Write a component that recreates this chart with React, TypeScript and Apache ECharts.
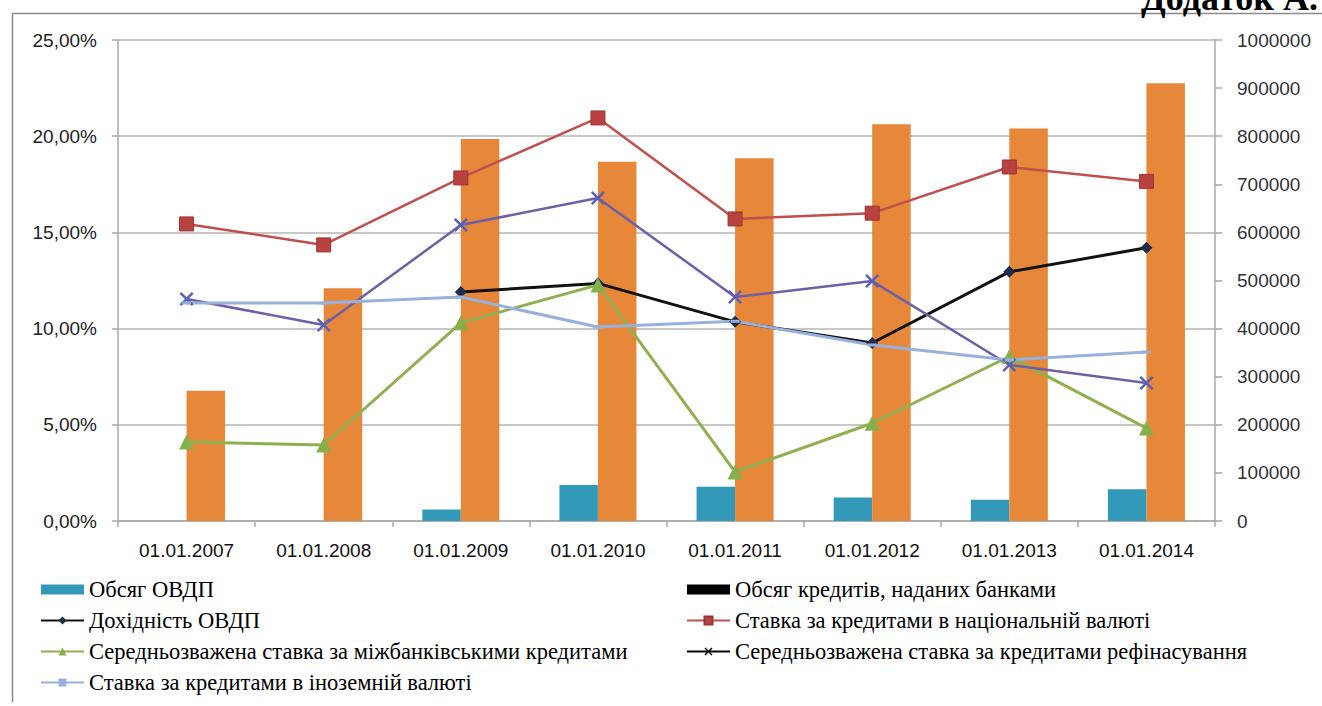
import React, { useEffect, useRef } from "react";
import * as echarts from "echarts";

const categories = ["01.01.2007", "01.01.2008", "01.01.2009", "01.01.2010", "01.01.2011", "01.01.2012", "01.01.2013", "01.01.2014"];
const ovdpVolume = [null, null, 24000, 75000, 71000, 49000, 44000, 66000];
const loansVolume = [271000, 484000, 794000, 747000, 754000, 825000, 816000, 910000];
const ovdpYield = [null, null, 11.9, 12.35, 10.35, 9.25, 12.95, 14.2];
const nationalRate = [15.44, 14.35, 17.83, 20.95, 15.7, 16.0, 18.4, 17.65];
const interbankRate = [4.1, 3.95, 10.3, 12.27, 2.55, 5.08, 8.55, 4.83];
const refinancingRate = [11.54, 10.19, 15.38, 16.79, 11.64, 12.47, 8.11, 7.17];
const foreignRate = [11.33, 11.33, 11.64, 10.08, 10.38, 9.15, 8.37, 8.78];

const leftAxis = { min: 0, max: 25, interval: 5 };
const rightAxis = { min: 0, max: 1000000, interval: 100000 };

const names = {
  ovdpVol: "Обсяг ОВДП",
  loansVol: "Обсяг кредитів, наданих банками",
  ovdpYield: "Дохідність ОВДП",
  national: "Ставка за кредитами в національній валюті",
  interbank: "Середньозважена ставка за міжбанківськими кредитами",
  refin: "Середньозважена ставка за кредитами рефінасування",
  foreign: "Ставка за кредитами в іноземній валюті",
};

const xSymbol = "path://M0,1.5L1.5,0L6,4.5L10.5,0L12,1.5L7.5,6L12,10.5L10.5,12L6,7.5L1.5,12L0,10.5L4.5,6Z";

const SERIF = "Liberation Serif";

export default function App() {
  const ref = useRef<HTMLDivElement>(null);
  useEffect(() => {
    if (!ref.current) return;
    const chart = echarts.init(ref.current, null, { renderer: "svg" });
    const legendText = {
      fontFamily: SERIF,
      fontSize: 22.5,
      color: "#000",
      lineHeight: 20,
    };
    const option: any = {
      animation: false,
      backgroundColor: "#fff",
      textStyle: { fontFamily: SERIF },
      grid: { left: 118, right: 107, top: 40, bottom: 185, containLabel: false },
      xAxis: {
        type: "category",
        data: categories,
        boundaryGap: true,
        axisLine: { lineStyle: { color: "#a8a8a8", width: 1.5 } },
        axisTick: { show: true, length: 6, lineStyle: { color: "#a8a8a8", width: 1.5 } },
        axisLabel: { color: "#111", fontFamily: "Liberation Sans", fontSize: 19, margin: 20 },
      },
      yAxis: [
        {
          type: "value",
          min: leftAxis.min,
          max: leftAxis.max,
          interval: leftAxis.interval,
          axisLine: { show: true, lineStyle: { color: "#a8a8a8", width: 1.5 } },
          axisTick: { show: true, length: 6, lineStyle: { color: "#a8a8a8", width: 1.5 } },
          splitLine: { show: true, lineStyle: { color: "#b4b4b4", width: 1.5 } },
          axisLabel: {
            color: "#222",
            fontFamily: "Liberation Sans",
            fontSize: 19,
            margin: 21,
            formatter: (v: number) => v.toFixed(2).replace(".", ",") + "%",
          },
        },
        {
          type: "value",
          position: "right",
          min: rightAxis.min,
          max: rightAxis.max,
          interval: rightAxis.interval,
          axisLine: { show: true, lineStyle: { color: "#a8a8a8", width: 1.5 } },
          axisTick: { show: true, length: 7, lineStyle: { color: "#a8a8a8", width: 1.5 } },
          splitLine: { show: false },
          axisLabel: {
            color: "#333",
            fontFamily: "Liberation Sans",
            fontSize: 19,
            margin: 22,
            formatter: (v: number) => String(Math.round(v)),
          },
        },
      ],
      legend: [
        {
          orient: "vertical",
          left: 35,
          top: 573,
          itemWidth: 43,
          itemHeight: 10,
          itemGap: 8,
          textStyle: legendText,
          data: [
            { name: names.ovdpVol, icon: "rect" },
            { name: names.ovdpYield },
            { name: names.interbank },
            { name: names.foreign },
          ],
        },
        {
          orient: "vertical",
          left: 681,
          top: 573,
          itemWidth: 43,
          itemHeight: 10,
          itemGap: 8,
          textStyle: legendText,
          data: [
            { name: names.loansVol, icon: "rect", itemStyle: { color: "#000" } },
            { name: names.national },
            { name: names.refin, itemStyle: { color: "#000" }, lineStyle: { color: "#000" } },
          ],
        },
      ],
      series: [
        {
          name: names.ovdpVol,
          type: "bar",
          yAxisIndex: 1,
          data: ovdpVolume,
          barWidth: 38.5,
          barGap: "0%",
          itemStyle: { color: "#3399b8" },
        },
        {
          name: names.loansVol,
          type: "bar",
          yAxisIndex: 1,
          data: loansVolume,
          barWidth: 38.5,
          barGap: "0%",
          itemStyle: { color: "#e6873a" },
        },
        {
          name: names.ovdpYield,
          type: "line",
          yAxisIndex: 0,
          data: ovdpYield,
          symbol: "diamond",
          symbolSize: 12,
          lineStyle: { color: "#111", width: 3 },
          itemStyle: { color: "#1f2d4a" },
        },
        {
          name: names.national,
          type: "line",
          yAxisIndex: 0,
          data: nationalRate,
          symbol: "rect",
          symbolSize: 14,
          lineStyle: { color: "#c0504d", width: 2.5 },
          itemStyle: { color: "#b8423f", borderColor: "#9e3533", borderWidth: 1 },
        },
        {
          name: names.interbank,
          type: "line",
          yAxisIndex: 0,
          data: interbankRate,
          symbol: "triangle",
          symbolSize: 15,
          lineStyle: { color: "#8fb050", width: 3 },
          itemStyle: { color: "#86b04a" },
        },
        {
          name: names.refin,
          type: "line",
          yAxisIndex: 0,
          data: refinancingRate,
          symbol: xSymbol,
          symbolSize: 14,
          lineStyle: { color: "#6e5fa6", width: 2.5 },
          itemStyle: { color: "#5a5fb8" },
        },
        {
          name: names.foreign,
          type: "line",
          yAxisIndex: 0,
          data: foreignRate,
          symbol: "rect",
          symbolSize: [9, 3],
          lineStyle: { color: "#98b0dc", width: 3 },
          itemStyle: { color: "#98b0dc" },
        },
      ],
      graphic: [
        {
          type: "polyline",
          silent: true,
          shape: { points: [[12.5, 702], [12.5, 13.5], [1322, 13.5]] },
          style: { stroke: "#8a8a8a", lineWidth: 1.5, fill: "none" },
        },
        {
          type: "text",
          silent: true,
          x: 1318,
          y: -2,
          style: {
            text: "Додаток А.",
            fontFamily: SERIF,
            fontWeight: "bold",
            fontSize: 36,
            fill: "#000",
            align: "right",
            verticalAlign: "middle",
          },
        },
      ],
    };
    chart.setOption(option);
    return () => chart.dispose();
  }, []);
  return (
    <div
      ref={ref}
      style={{ position: "fixed", left: 0, top: 0, width: 1322, height: 706, background: "#fff" }}
    />
  );
}
